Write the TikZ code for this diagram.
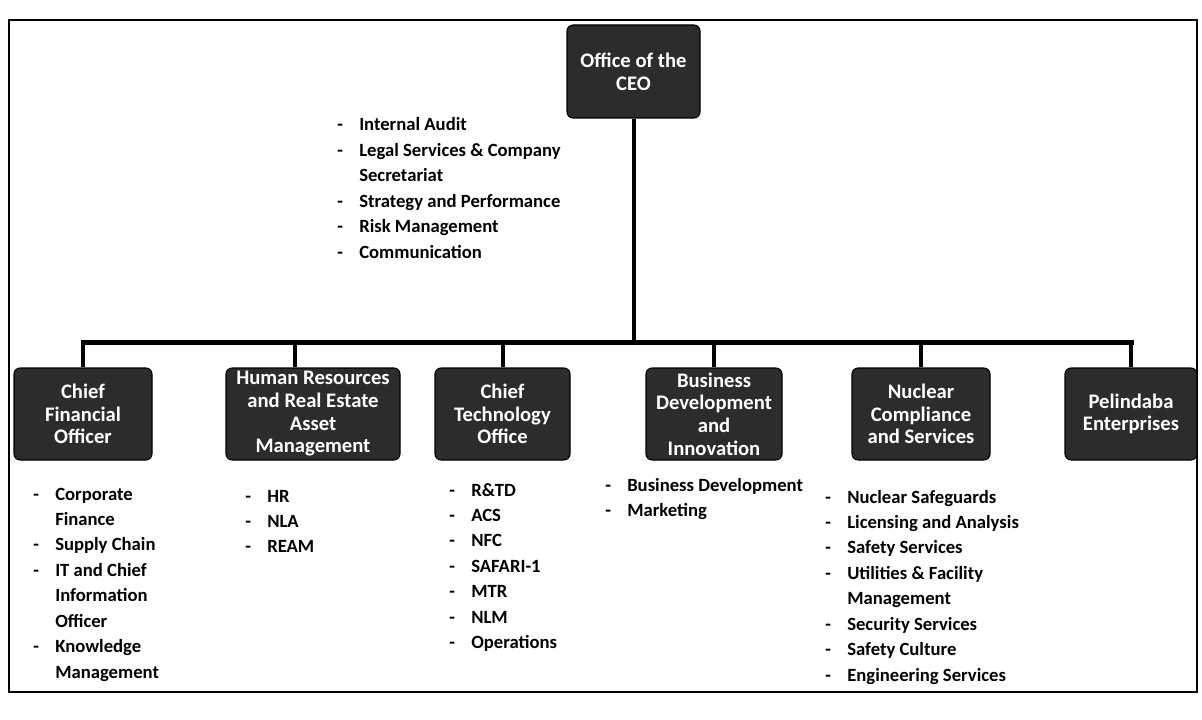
\documentclass[tikz,border=0pt]{standalone}
\usepackage{fontspec}
\setmainfont{Carlito}
\definecolor{boxgray}{RGB}{44,44,44}
% two-column list: a dash, then the item (continuation lines leave the dash cell empty)
\newcommand{\dutylist}[1]{\begin{tabular}[t]{@{}p{16.5pt}@{}l@{}}#1\end{tabular}}
\begin{document}
\begin{tikzpicture}[x=0.75pt,y=-0.75pt,
  unit/.style={draw=black, line width=0.8pt, fill=boxgray, rounded corners=4.5pt,
    text=white, font=\fontsize{15.5}{17}\selectfont\bfseries, align=center,
    inner sep=1pt, minimum height=69pt},
  tie/.style={line width=3pt},
  bus/.style={line width=3.75pt, line cap=rect},
  frame/.style={line width=1.1pt},
  duties/.style={anchor=base west, inner sep=0pt,
    font=\fontsize{14}{19.1}\selectfont\bfseries}]
\useasboundingbox (0,0) rectangle (1202,720);

% outer frame
\draw[frame] (9,20) rectangle (1197,692);

% units
\node[unit, minimum width=99.75pt, minimum height=69.75pt] (ceo) at (633.5,71.5) {Office of the\\CEO};
\node[unit, minimum width=103.5pt] (cfo) at (83,414) {Chief\\Financial\\Officer};
\node[unit, minimum width=130.5pt] (hr) at (313,414) {Human Resources\\and Real Estate\\Asset\\Management};
\node[unit, minimum width=101.25pt] (cto) at (502.5,414) {Chief\\Technology\\Office};
\node[unit, minimum width=102pt] (bdi) at (714,414) {Business\\Development\\and\\Innovation};
\node[unit, minimum width=103.5pt] (ncs) at (921,414) {Nuclear\\Compliance\\and Services};
\node[unit, minimum width=99pt] (pe) at (1131,414) {Pelindaba\\Enterprises};

% reporting lines
\coordinate (bus) at (0,342);
\draw[bus] (cfo.north |- bus) -- (pe.north |- bus);
\draw[tie] (ceo.south) -- (ceo.south |- bus);
\draw[tie] (cfo.north) -- (cfo.north |- bus);
\draw[tie] ([xshift=-13.5pt]hr.north) -- ([xshift=-13.5pt]hr.north |- bus);
\draw[tie] (cto.north) -- (cto.north |- bus);
\draw[tie] (bdi.north) -- (bdi.north |- bus);
\draw[tie] (ncs.north) -- (ncs.north |- bus);
\draw[tie] (pe.north) -- (pe.north |- bus);

% functions under each unit
\node[duties] (ceolist) at (337,131) {\dutylist{%
  - & Internal Audit\\
  - & Legal Services \& Company\\
    & Secretariat\\
  - & Strategy and Performance\\
  - & Risk Management\\
  - & Communication}};
\node[duties] (cfolist) at (33,500) {\dutylist{%
  - & Corporate\\
    & Finance\\
  - & Supply Chain\\
  - & IT and Chief\\
    & Information\\
    & Officer\\
  - & Knowledge\\
    & Management}};
\node[duties] (hrlist) at (245,502) {\dutylist{%
  - & HR\\
  - & NLA\\
  - & REAM}};
\node[duties] (ctolist) at (449,496) {\dutylist{%
  - & R\&TD\\
  - & ACS\\
  - & NFC\\
  - & SAFARI-1\\
  - & MTR\\
  - & NLM\\
  - & Operations}};
\node[duties] (bdilist) at (605,491) {\dutylist{%
  - & Business Development\\
  - & Marketing}};
\node[duties] (ncslist) at (825,503) {\dutylist{%
  - & Nuclear Safeguards\\
  - & Licensing and Analysis\\
  - & Safety Services\\
  - & Utilities \& Facility\\
    & Management\\
  - & Security Services\\
  - & Safety Culture\\
  - & Engineering Services}};
\end{tikzpicture}
\end{document}
